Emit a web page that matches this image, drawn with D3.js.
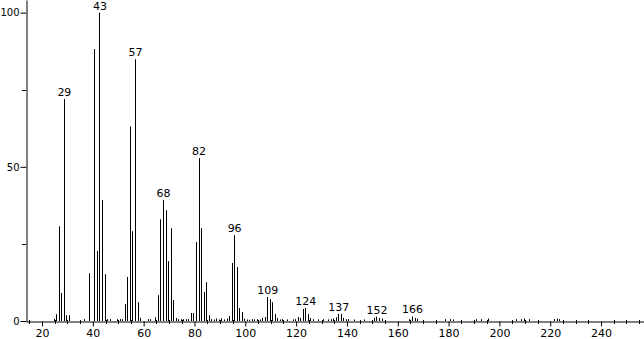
<!DOCTYPE html>
<html>
<head>
<meta charset="utf-8">
<script src="https://cdnjs.cloudflare.com/ajax/libs/d3/7.8.5/d3.min.js"></script>
<style>
  body { margin: 0; background: #fff; }
  svg { display: block; }
  text { font-family: "DejaVu Sans", sans-serif; font-size: 11px; fill: #000; }
</style>
</head>
<body>
<svg id="spectrum"></svg>
<script>
// m/z values and relative intensities
const mz = [25, 26, 27, 28, 29, 30, 31, 37, 39, 41, 42, 43, 44, 45, 46, 47,
    50, 51, 52, 53, 54, 55, 56, 57, 58, 59, 62, 63, 65, 66, 67, 68, 69, 70, 71, 72,
    73, 74, 75, 76, 77, 78, 79, 80, 81, 82, 83, 84, 85, 86, 87, 88, 89, 90, 91, 92,
    93, 94, 95, 96, 97, 98, 99, 100, 101, 102, 103, 104, 105, 106, 107, 108, 109,
    110, 111, 112, 113, 114, 115, 117, 119, 120, 121, 122, 123, 124, 125, 126, 127,
    129, 131, 133, 134, 135, 136, 137, 138, 139, 140, 141, 143, 147, 151, 152, 153,
    154, 165, 166, 167, 168, 179, 181, 182, 191, 193, 196, 207, 209, 210, 212,
    222, 223, 224]
const intensity = [0.7, 2.2, 30.7, 9.1, 72, 1.9, 1.9, 0.6, 15.5, 88.2, 22.7, 100, 39.2, 15.2, 0.6, 0.6,
    0.6, 0.6, 0.6, 5.5, 14.3, 63.1, 29.1, 84.9, 6.1, 1.0, 0.6, 0.6, 1.2, 8.4, 33, 39.2, 35.9, 19.4, 30.1, 6.8,
    1.0, 0.6, 0.6, 0.6, 0.6, 0.6, 2.6, 2.6, 25.6, 52.8, 30.1, 9.4, 12.6, 1.9, 0.6, 0.5, 0.8, 0.5, 0.9, 0.5,
    0.8, 1.6, 18.8, 27.8, 17.5, 4.2, 2.9, 0.8, 0.5, 0.4, 0.6, 0.5, 0.6, 0.5, 1.0, 1.3, 7.8,
    7.1, 6.1, 2.3, 1.0, 0.5, 0.6, 0.5, 0.5, 0.6, 1.3, 1.0, 3.9, 4.2, 2.3, 1.0, 0.6,
    0.5, 0.6, 0.5, 0.6, 0.8, 1.2, 2.3, 2.3, 1.0, 0.6, 0.6, 0.5, 0.5, 1.0, 1.4, 1.0,
    0.8, 0.6, 1.5, 1.0, 0.8, 0.6, 0.6, 0.5, 0.6, 0.6, 0.8, 0.6, 0.6, 0.8, 0.6,
    0.6, 0.8, 0.6]
const labelled = [29, 43, 57, 68, 82, 96, 109, 124, 137, 152, 166]
const xMajor = [20, 40, 60, 80, 100, 120, 140, 160, 180, 200, 220, 240]
const yMajor = [0, 50, 100]
const yMinor = [25, 75]

let width = 644, height = 339
let svg = d3.select("#spectrum").attr("width", width).attr("height", height)

let x = d3.scaleLinear().domain([13.7, 256.9]).range([26, 644])
let y = d3.scaleLinear().domain([0, 104.1]).range([321, 0])

let peaks = mz.map((m, i) => ({m: m, v: intensity[i]}))

// minor x ticks every 5
let xMinor = d3.range(15, 256, 5).filter(v => v % 20 != 0)
svg.append("g")
    .selectAll("line")
    .data(xMinor)
    .enter()
    .append("line")
    .attr("x1", d => Math.round(x(d)) + 0.5)
    .attr("x2", d => Math.round(x(d)) + 0.5)
    .attr("y1", 320)
    .attr("y2", 324)
    .attr("stroke", "#000")

// x axis
let xAxis = svg.append("g")
    .attr("transform", "translate(0,321.5)")
    .call(d3.axisBottom(x).tickValues(xMajor).tickSize(5).tickPadding(3).tickSizeOuter(0))
xAxis.selectAll("text").style("font-family", "DejaVu Sans").style("font-size", "11px")
xAxis.select(".domain").attr("stroke", "#000")

// y axis
let yAxis = svg.append("g")
    .attr("transform", "translate(26.5,0)")
    .call(d3.axisLeft(y).tickValues(yMajor).tickSize(6).tickPadding(1).tickSizeOuter(0))
yAxis.selectAll("text").style("font-family", "DejaVu Sans").style("font-size", "10px")

svg.append("g")
    .selectAll("line")
    .data(yMinor)
    .enter()
    .append("line")
    .attr("x1", 22)
    .attr("x2", 26)
    .attr("y1", d => Math.round(y(d)) + 0.5)
    .attr("y2", d => Math.round(y(d)) + 0.5)
    .attr("stroke", "#000")

// peaks
svg.append("g")
    .selectAll("line")
    .data(peaks)
    .enter()
    .append("line")
    .attr("x1", d => Math.round(x(d.m) - 1) + 0.5)
    .attr("x2", d => Math.round(x(d.m) - 1) + 0.5)
    .attr("y1", y(0))
    .attr("y2", d => y(d.v))
    .attr("stroke", "#000")
    .attr("stroke-width", 1)

// peak labels
svg.append("g")
    .selectAll("text")
    .data(peaks.filter(d => labelled.includes(d.m)))
    .enter()
    .append("text")
    .attr("text-anchor", "middle")
    .attr("x", d => x(d.m) - 0.5)
    .attr("y", d => y(d.v) - 3)
    .text(d => d.m)
</script>
</body>
</html>
